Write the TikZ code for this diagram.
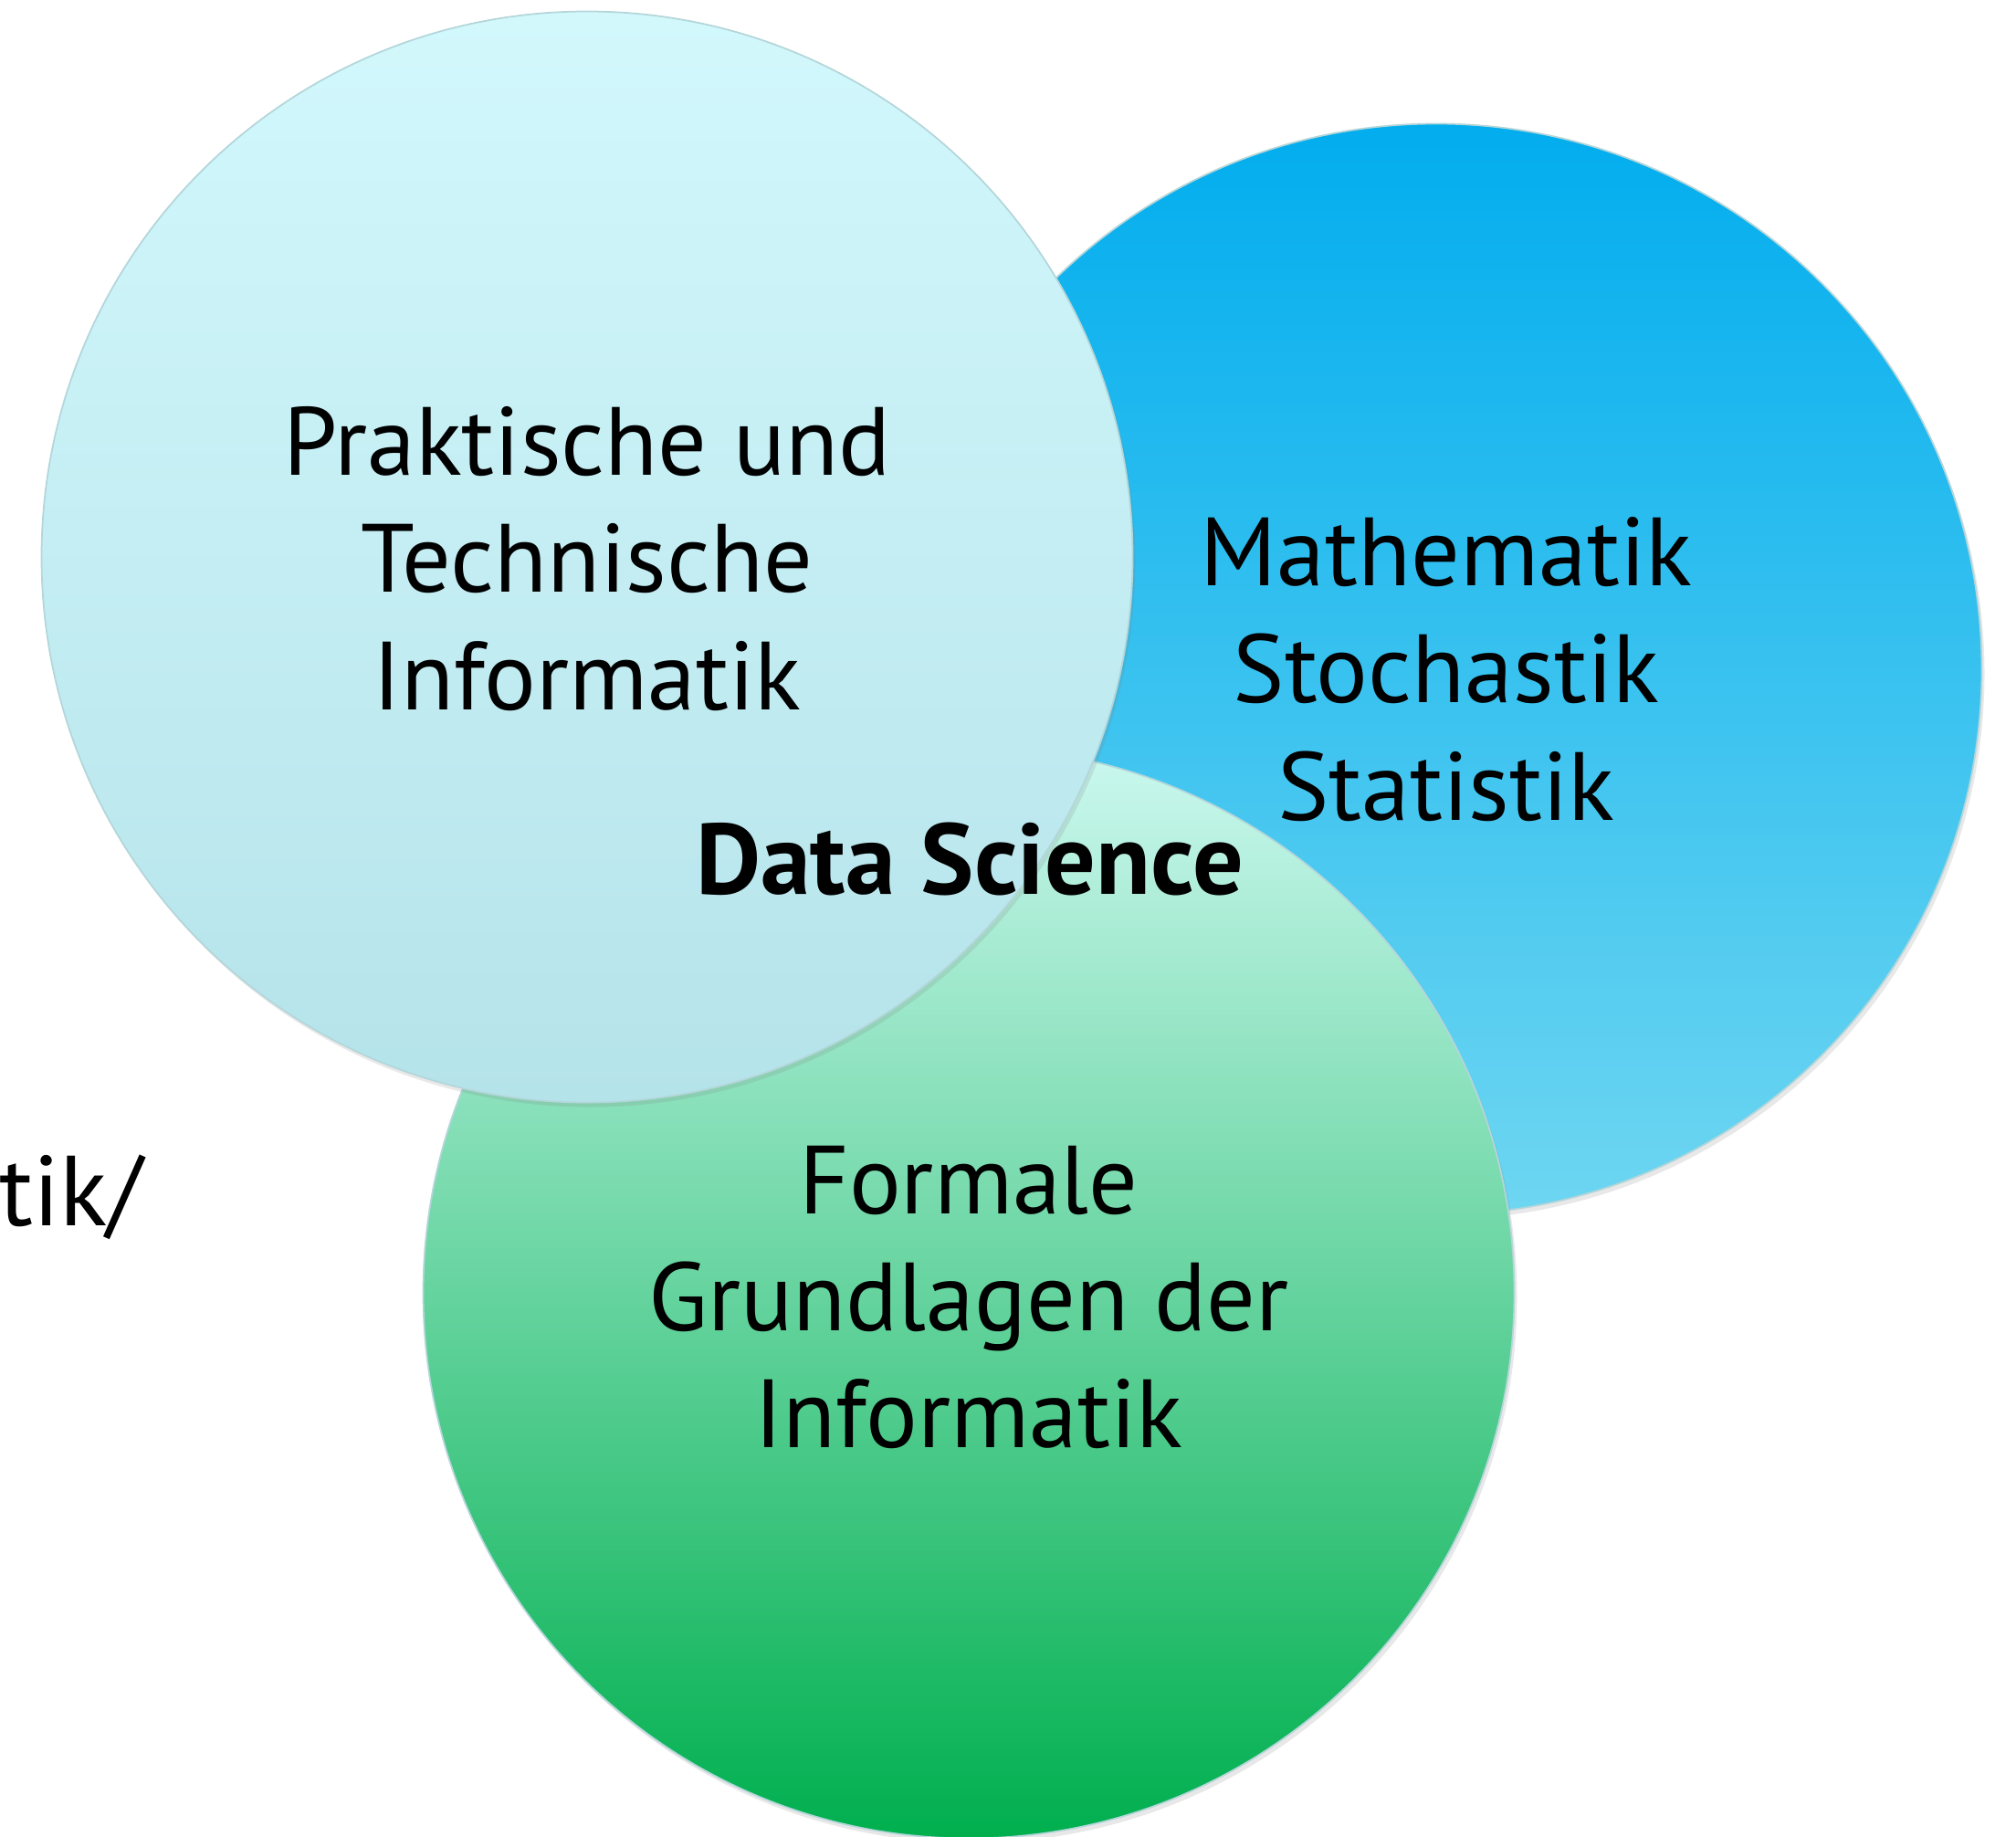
\documentclass[tikz,border=0pt]{standalone}
\usepackage{fontspec}
\setmainfont{PT Sans}
\usetikzlibrary{shapes.geometric,shadows,positioning}

\definecolor{praxtop}{HTML}{D2F8FC}
\definecolor{praxbot}{HTML}{B5E3EA}
\definecolor{mathtop}{HTML}{02ADEE}
\definecolor{mathbot}{HTML}{6ED6F1}
\definecolor{formtop}{HTML}{CBF8EF}
\definecolor{formbot}{HTML}{00AF4E}
\definecolor{rimline}{HTML}{B4D6DA}

\begin{document}
\begin{tikzpicture}

      \tikzstyle{field}=[circle,minimum size=11.95cm,inner sep=0pt,
        draw=rimline,line width=0.5pt,
        drop shadow={shadow xshift=0.03cm,shadow yshift=-0.05cm,
          opacity=0.18}]
      \tikzstyle{fieldtext}=[text centered,align=center,
        font=\fontsize{30.2}{36.5}\selectfont]

      \useasboundingbox (0,0) rectangle (22.08,-20.12);

      % Mathematik
      \node(Math)[field,top color=mathtop,bottom color=mathbot]
        at (15.73,-7.33){};
      \node(MathText)[fieldtext] at (15.84,-7.33)
        {Mathematik\\Stochastik\\Statistik};

      % Formale Grundlagen
      \node(Formal)[field,top color=formtop,bottom color=formbot]
        at (10.61,-14.16){};
      \node(FormalText)[fieldtext] at (10.61,-14.21)
        {Formale\\Grundlagen der\\Informatik};

      % Praktische und Technische Informatik
      \node(Prax)[field,top color=praxtop,bottom color=praxbot]
        at (6.43,-6.10){};
      \node(PraxText)[fieldtext] at (6.43,-6.12)
        {Praktische und\\Technische\\Informatik};

      \node(DataSci)[font=\fontsize{31.3}{36}\selectfont\bfseries]
        at (10.62,-9.41){Data Science};

      \node(Cut)[anchor=base east,inner sep=0pt,
        font=\fontsize{31}{36}\selectfont] at (1.57,-13.42){tik/};

    \end{tikzpicture}
\end{document}
